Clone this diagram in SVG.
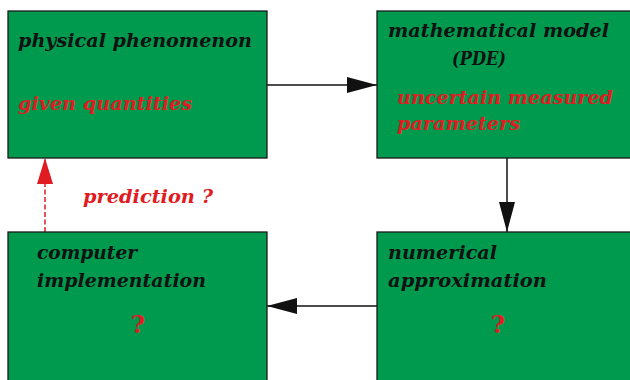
<svg xmlns="http://www.w3.org/2000/svg" width="630" height="380" viewBox="0 0 630 380">
<style>
.box{fill:#009a4e;stroke:#1a1a1a;stroke-width:1.3}
text{font-family:"DejaVu Serif","Liberation Serif",serif;font-weight:bold;font-style:italic;font-size:19px}
.k{fill:#111}
.r{fill:#e01b22}
.q{font-size:24px;font-style:normal}
.c{stroke:#111;stroke-width:1.5;fill:none}
.d{stroke:#e01b22;stroke-width:1.5;stroke-dasharray:5,2.5;fill:none}
</style>
<defs>
<marker id="ah" markerWidth="30" markerHeight="16" refX="30" refY="8" orient="auto" markerUnits="userSpaceOnUse"><path d="M0,0 L30,8 L0,16 Z" fill="#111"/></marker>
<marker id="ahr" markerWidth="26" markerHeight="16" refX="26" refY="8" orient="auto" markerUnits="userSpaceOnUse"><path d="M0,0 L26,8 L0,16 Z" fill="#e01b22"/></marker>
</defs>
<g id="connectors">
<path class="c" d="M267,85 H377" marker-end="url(#ah)"/>
<path class="c" d="M507,158 V232" marker-end="url(#ah)"/>
<path class="c" d="M377,306 H267" marker-end="url(#ah)"/>
<path class="d" d="M45,232 V158" marker-end="url(#ahr)"/>
</g>
<g id="physical">
<rect class="box" x="8" y="11" width="259" height="147"/>
<text class="k" x="18" y="47" textLength="234" lengthAdjust="spacingAndGlyphs">physical phenomenon</text>
<text class="r" x="18" y="110" textLength="174" lengthAdjust="spacingAndGlyphs">given quantities</text>
</g>
<g id="model">
<rect class="box" x="377" y="11" width="260" height="147"/>
<text class="k" x="388" y="37" textLength="221" lengthAdjust="spacingAndGlyphs">mathematical model</text>
<text class="k" x="452" y="65" textLength="54" lengthAdjust="spacingAndGlyphs">(PDE)</text>
<text class="r" x="397" y="104" textLength="216" lengthAdjust="spacingAndGlyphs">uncertain measured</text>
<text class="r" x="397" y="130" textLength="123" lengthAdjust="spacingAndGlyphs">parameters</text>
</g>
<g id="computer">
<rect class="box" x="8" y="232" width="259" height="155"/>
<text class="k" x="37" y="259" textLength="100" lengthAdjust="spacingAndGlyphs">computer</text>
<text class="k" x="37" y="287" textLength="169" lengthAdjust="spacingAndGlyphs">implementation</text>
<text class="r q" x="131" y="333">?</text>
</g>
<g id="numerical">
<rect class="box" x="377" y="232" width="260" height="155"/>
<text class="k" x="388" y="259" textLength="109" lengthAdjust="spacingAndGlyphs">numerical</text>
<text class="k" x="388" y="287" textLength="159" lengthAdjust="spacingAndGlyphs">approximation</text>
<text class="r q" x="491" y="333">?</text>
</g>
<text class="r" x="83" y="203" textLength="130" lengthAdjust="spacingAndGlyphs">prediction ?</text>
</svg>
